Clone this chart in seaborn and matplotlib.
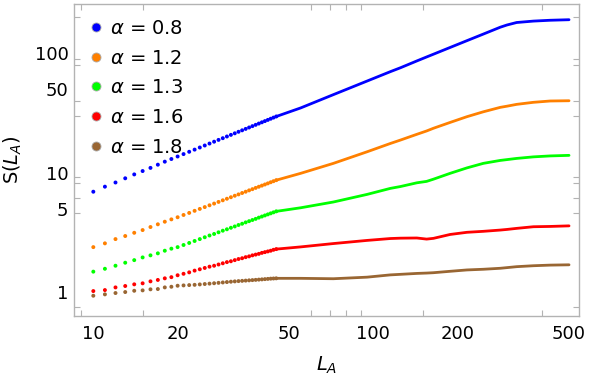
import matplotlib
matplotlib.use("Agg")
import matplotlib.pyplot as plt
from matplotlib.lines import Line2D
from matplotlib.ticker import FixedLocator, NullFormatter
import pandas as pd
import seaborn as sns

plt.rcParams["mathtext.fontset"] = "dejavusans"

# Series labels and colours
alphas = ["0.8", "1.2", "1.3", "1.6", "1.8"]
colors = ["#0000ff", "#ff8000", "#00ff00", "#ff0000", "#996633"]

# Separate dots at small L_A (integer sizes)
L_dots = list(range(10, 46))
s08_dots = [6.95, 7.66, 8.30, 9.00, 9.70, 10.35, 11.0, 11.7, 12.4, 13.05, 13.7,
            14.35, 15.0, 15.64, 16.29, 16.93, 17.58, 18.22, 18.86, 19.49, 20.14,
            20.78, 21.41, 22.05, 22.68, 23.31, 23.95, 24.58, 25.21, 25.84, 26.47,
            27.09, 27.72, 28.35, 28.98, 29.60]
s12_dots = [2.39, 2.57, 2.79, 2.96, 3.15, 3.32, 3.52, 3.71, 3.90, 4.08, 4.25,
            4.44, 4.62, 4.81, 4.99, 5.17, 5.35, 5.53, 5.71, 5.89, 6.07,
            6.25, 6.43, 6.60, 6.78, 6.95, 7.13, 7.30, 7.48, 7.65, 7.82,
            7.99, 8.16, 8.34, 8.51, 8.68]
s13_dots = [1.49, 1.575, 1.67, 1.77, 1.86, 1.96, 2.04, 2.12, 2.23, 2.32, 2.39,
            2.49, 2.59, 2.69, 2.79, 2.89, 2.99, 3.08, 3.18, 3.28, 3.37,
            3.47, 3.56, 3.66, 3.75, 3.85, 3.94, 4.03, 4.12, 4.22, 4.31,
            4.40, 4.49, 4.58, 4.67, 4.76]
s16_dots = [1.025, 1.045, 1.10, 1.13, 1.167, 1.19, 1.236, 1.27, 1.31, 1.34, 1.39,
            1.43, 1.47, 1.52, 1.56, 1.60, 1.64, 1.67, 1.71, 1.75, 1.79,
            1.82, 1.86, 1.90, 1.93, 1.97, 2.00, 2.04, 2.07, 2.10, 2.14,
            2.17, 2.20, 2.23, 2.27, 2.30]
s18_dots = [0.937, 0.962, 0.987, 1.006, 1.031, 1.039, 1.06, 1.066, 1.10, 1.114, 1.136,
            1.143, 1.150, 1.156, 1.165, 1.174, 1.183, 1.192, 1.201, 1.210, 1.219,
            1.228, 1.235, 1.242, 1.248, 1.254, 1.260, 1.266, 1.272, 1.278, 1.284,
            1.290, 1.296, 1.302, 1.306, 1.310]

# Dense part (dots merge into a line)
L_line = [45, 55, 72, 95, 115, 125, 143, 155, 164, 188, 216, 247, 284, 300, 325, 373, 428, 500]
s08_line = [29.6, 34.9, 45.1, 58.6, 70.2, 75.7, 86.3, 93.2, 98.3, 111.9, 127.6, 144.8,
            165.3, 172.5, 181.0, 186.0, 189.0, 191.0]
s12_line = [8.68, 9.9, 12.0, 15.0, 17.6, 18.8, 21.0, 22.4, 23.6, 26.4, 29.5, 32.4,
            35.3, 36.1, 37.4, 38.9, 39.9, 40.1]
s13_line = [4.76, 5.10, 5.70, 6.60, 7.41, 7.68, 8.25, 8.48, 8.85, 9.9, 11.0, 12.0,
            12.7, 12.9, 13.2, 13.6, 13.85, 14.0]
s16_line = [2.30, 2.40, 2.56, 2.72, 2.82, 2.84, 2.85, 2.79, 2.83, 3.05, 3.18, 3.24,
            3.32, 3.36, 3.43, 3.54, 3.56, 3.60]
s18_line = [1.31, 1.31, 1.30, 1.34, 1.40, 1.415, 1.44, 1.45, 1.46, 1.50, 1.54, 1.56,
            1.59, 1.61, 1.64, 1.67, 1.69, 1.70]

x_labels = [10, 20, 50, 100, 200, 500]
y_labels = [1, 5, 10, 50, 100]

dot_series = [s08_dots, s12_dots, s13_dots, s16_dots, s18_dots]
line_series = [s08_line, s12_line, s13_line, s16_line, s18_line]

df_dots = pd.concat([pd.DataFrame({"L": L_dots, "S": s, "alpha": a})
                     for a, s in zip(alphas, dot_series)])
df_line = pd.concat([pd.DataFrame({"L": L_line, "S": s, "alpha": a})
                     for a, s in zip(alphas, line_series)])

fig = plt.figure(figsize=(5.9, 3.78), dpi=100)
ax = fig.add_axes([0.1254, 0.1653, 0.856, 0.8233])
ax.set_xscale("log")
ax.set_yscale("log")

sns.lineplot(data=df_line, x="L", y="S", hue="alpha", palette=colors, estimator=None,
             sort=False, linewidth=2.0, legend=False, ax=ax, solid_capstyle="round")
sns.scatterplot(data=df_dots, x="L", y="S", hue="alpha", palette=colors, s=8,
                linewidth=0, legend=False, ax=ax)

ax.set_xlim(8.53, 542.8)
ax.set_ylim(0.64, 257)

gray = "#b3b3b3"
for sp in ax.spines.values():
    sp.set_color(gray)
    sp.set_linewidth(1.0)

ax.set_xticks(x_labels)
ax.set_xticklabels([str(v) for v in x_labels])
ax.set_yticks(y_labels)
ax.set_yticklabels([str(v) for v in y_labels])
ax.xaxis.set_minor_locator(FixedLocator([9, 10, 15, 20, 60, 70, 80, 90, 100, 150, 400, 500]))
ax.yaxis.set_minor_locator(FixedLocator([0.76, 4.6, 6.1, 8.3, 9.3, 30, 40, 50, 80, 90, 100, 200]))
ax.xaxis.set_minor_formatter(NullFormatter())
ax.yaxis.set_minor_formatter(NullFormatter())
ax.tick_params(which="major", length=0, labelsize=13, colors="black")
ax.tick_params(axis="x", which="major", pad=7)
ax.tick_params(axis="y", which="major", pad=4)
ax.tick_params(which="minor", direction="in", length=4, width=0.8, color=gray,
               top=True, right=True)

ax.set_xlabel("$L_A$", fontsize=14)
ax.set_ylabel("S($L_A$)", fontsize=14)
ax.xaxis.set_label_coords(0.5, -0.125)
ax.yaxis.set_label_coords(-0.098, 0.5)

handles = [Line2D([], [], marker="o", linestyle="", markersize=6.5, markerfacecolor=c,
                  markeredgecolor="#aaaaaa", markeredgewidth=0.6) for c in colors]
labels = [r"$\alpha$ = " + a for a in alphas]
ax.legend(handles, labels, loc="upper left", frameon=False, fontsize=14,
          handlelength=0.8, handletextpad=0.3, borderaxespad=0.45, borderpad=0.3,
          labelspacing=0.55)

fig.savefig("out.png", dpi=100)
